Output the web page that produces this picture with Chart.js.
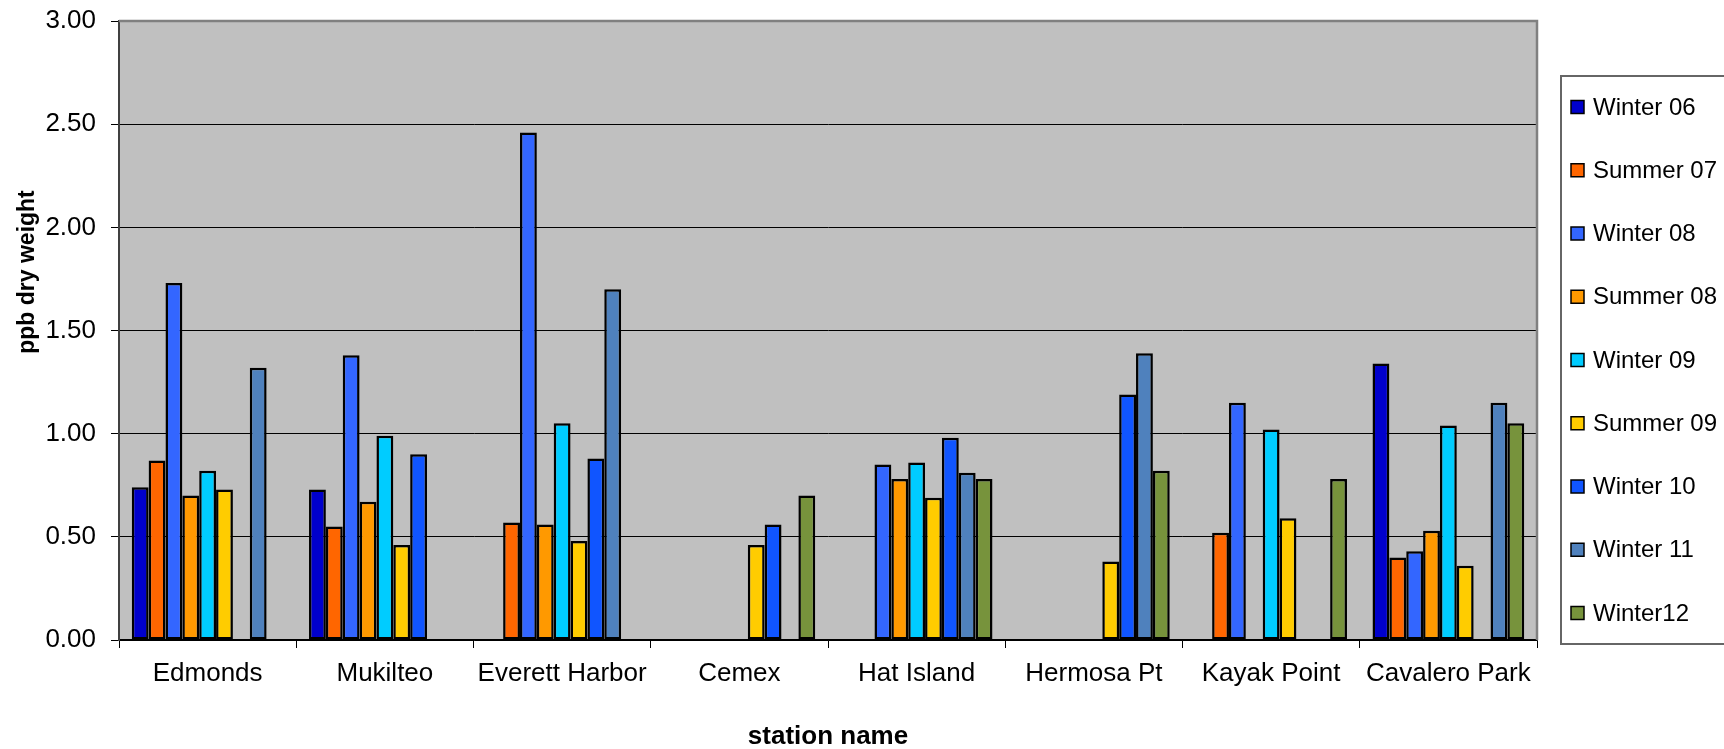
<!DOCTYPE html>
<html>
<head>
<meta charset="utf-8">
<title>ppb dry weight by station</title>
<script src="https://cdn.jsdelivr.net/npm/chart.js@4/dist/chart.umd.min.js"></script>
<style>
  html, body { margin: 0; padding: 0; background: #fff; }
  #wrap { width: 1724px; height: 749px; position: relative; }
</style>
</head>
<body>
<div id="wrap"><canvas id="chart"></canvas></div>
<script>
// stations on the x axis
const stations = ["Edmonds", "Mukilteo", "Everett Harbor", "Cemex", "Hat Island",
                  "Hermosa Pt", "Kayak Point", "Cavalero Park"];

// sampling campaigns (ppb dry weight), null = not sampled
const winter06 = [0.74, 0.73, null, null, null, null, null, 1.34];
const summer07 = [0.87, 0.55, 0.57, null, null, null, 0.52, 0.40];
const winter08 = [1.73, 1.38, 2.46, null, 0.85, null, 1.15, 0.43];
const summer08 = [0.70, 0.67, 0.56, null, 0.78, null, null, 0.53];
const winter09 = [0.82, 0.99, 1.05, null, 0.86, null, 1.02, 1.04];
const summer09 = [0.73, 0.46, 0.48, 0.46, 0.69, 0.38, 0.59, 0.36];
const winter10 = [null, 0.90, 0.88, 0.56, 0.98, 1.19, null, null];
const winter11 = [1.32, null, 1.70, null, 0.81, 1.39, null, 1.15];
const winter12 = [null, null, null, 0.70, 0.78, 0.82, 0.78, 1.05];

const seriesNames = ["Winter 06", "Summer 07", "Winter 08", "Summer 08", "Winter 09",
                     "Summer 09", "Winter 10", "Winter 11", "Winter12"];
const seriesValues = [winter06, summer07, winter08, summer08, winter09,
                      summer09, winter10, winter11, winter12];
const seriesColors = ["#0000cc", "#ff6600", "#3366ff", "#ff9900", "#00ccff",
                      "#ffcc00", "#1055ff", "#4f81bd", "#77933c"];

const yTicks = [0, 0.5, 1, 1.5, 2, 2.5, 3];

const FONT = "'Liberation Sans', Arial, sans-serif";

// fond gris de la zone de tracé, cadre, titre Y et légende encadrée
const excelLook = {
  id: "excelLook",
  beforeDraw(chart) {
    const { ctx, chartArea: a } = chart;
    ctx.save();
    ctx.fillStyle = "#ffffff";
    ctx.fillRect(0, 0, chart.width, chart.height);
    ctx.fillStyle = "#c0c0c0";
    ctx.fillRect(a.left, a.top, a.right - a.left, a.bottom - a.top);
    ctx.restore();
  },
  afterDraw(chart) {
    const { ctx, chartArea: a } = chart;
    ctx.save();

    // bord haut + droit en gris
    ctx.strokeStyle = "#808080";
    ctx.lineWidth = 2.5;
    ctx.beginPath();
    ctx.moveTo(a.left, a.top);
    ctx.lineTo(a.right, a.top);
    ctx.lineTo(a.right, a.bottom);
    ctx.stroke();

    // titre de l'axe Y
    ctx.fillStyle = "#000";
    ctx.font = "bold 23px " + FONT;
    ctx.textAlign = "center";
    ctx.textBaseline = "middle";
    ctx.translate(28, 272);
    ctx.rotate(-Math.PI / 2);
    ctx.fillText("ppb dry weight", 0, 0);
    ctx.setTransform(1, 0, 0, 1, 0, 0);

    // légende
    const lx = 1561, ly = 76, lb = 644;
    ctx.strokeStyle = "#666";
    ctx.lineWidth = 2;
    ctx.strokeRect(lx, ly, chart.width - lx + 10, lb - ly);

    const step = 63.25;
    ctx.font = "24px " + FONT;
    ctx.textAlign = "left";
    chart.data.datasets.forEach((ds, i) => {
      const y = 107 + i * step;
      ctx.fillStyle = ds.backgroundColor;
      ctx.fillRect(1571, y - 6.5, 13, 13);
      ctx.strokeStyle = "#000";
      ctx.lineWidth = 1.5;
      ctx.strokeRect(1571, y - 6.5, 13, 13);
      ctx.fillStyle = "#000";
      ctx.fillText(ds.label, 1593, y + 1);
    });
    ctx.restore();
  }
};

const datasets = seriesNames.map((name, i) => ({
  label: name,
  data: seriesValues[i],
  backgroundColor: seriesColors[i],
  borderColor: "#000",
  borderWidth: 2.5,
  borderSkipped: false,
  categoryPercentage: 0.856,
  barPercentage: 1.0
}));

new Chart(document.getElementById("chart"), {
  type: "bar",
  data: { labels: stations, datasets },
  plugins: [excelLook],
  options: {
    responsive: true,
    maintainAspectRatio: false,
    animation: false,
    devicePixelRatio: 1,
    layout: { padding: { top: 21, right: 187, bottom: 0, left: 0 } },
    plugins: {
      legend: { display: false },
      tooltip: { enabled: false }
    },
    scales: {
      x: {
        afterFit: s => { s.height = 109; },
        grid: {
          offset: true,
          drawOnChartArea: false,
          drawTicks: true,
          tickLength: 8,
          color: "#000",
          lineWidth: 1
        },
        border: { color: "#000", width: 1.5 },
        ticks: {
          color: "#000",
          font: { family: FONT, size: 26 },
          padding: 10,
          maxRotation: 0,
          autoSkip: false
        },
        title: {
          display: true,
          text: "station name",
          color: "#000",
          font: { family: FONT, size: 26, weight: "bold", lineHeight: 0.9 },
          padding: { top: 0, bottom: 0 }
        }
      },
      y: {
        min: 0,
        max: 3,
        afterFit: s => { s.width = 119; s.paddingTop = 0; s.paddingBottom = 0; },
        afterBuildTicks: s => { s.ticks = yTicks.map(v => ({ value: v })); },
        grid: {
          color: "#000",
          lineWidth: 1,
          drawTicks: true,
          tickLength: 8
        },
        border: { color: "#404040", width: 2 },
        ticks: {
          color: "#000",
          font: { family: FONT, size: 26 },
          padding: 15,
          callback: v => Number(v).toFixed(2)
        }
      }
    }
  }
});
</script>
</body>
</html>
